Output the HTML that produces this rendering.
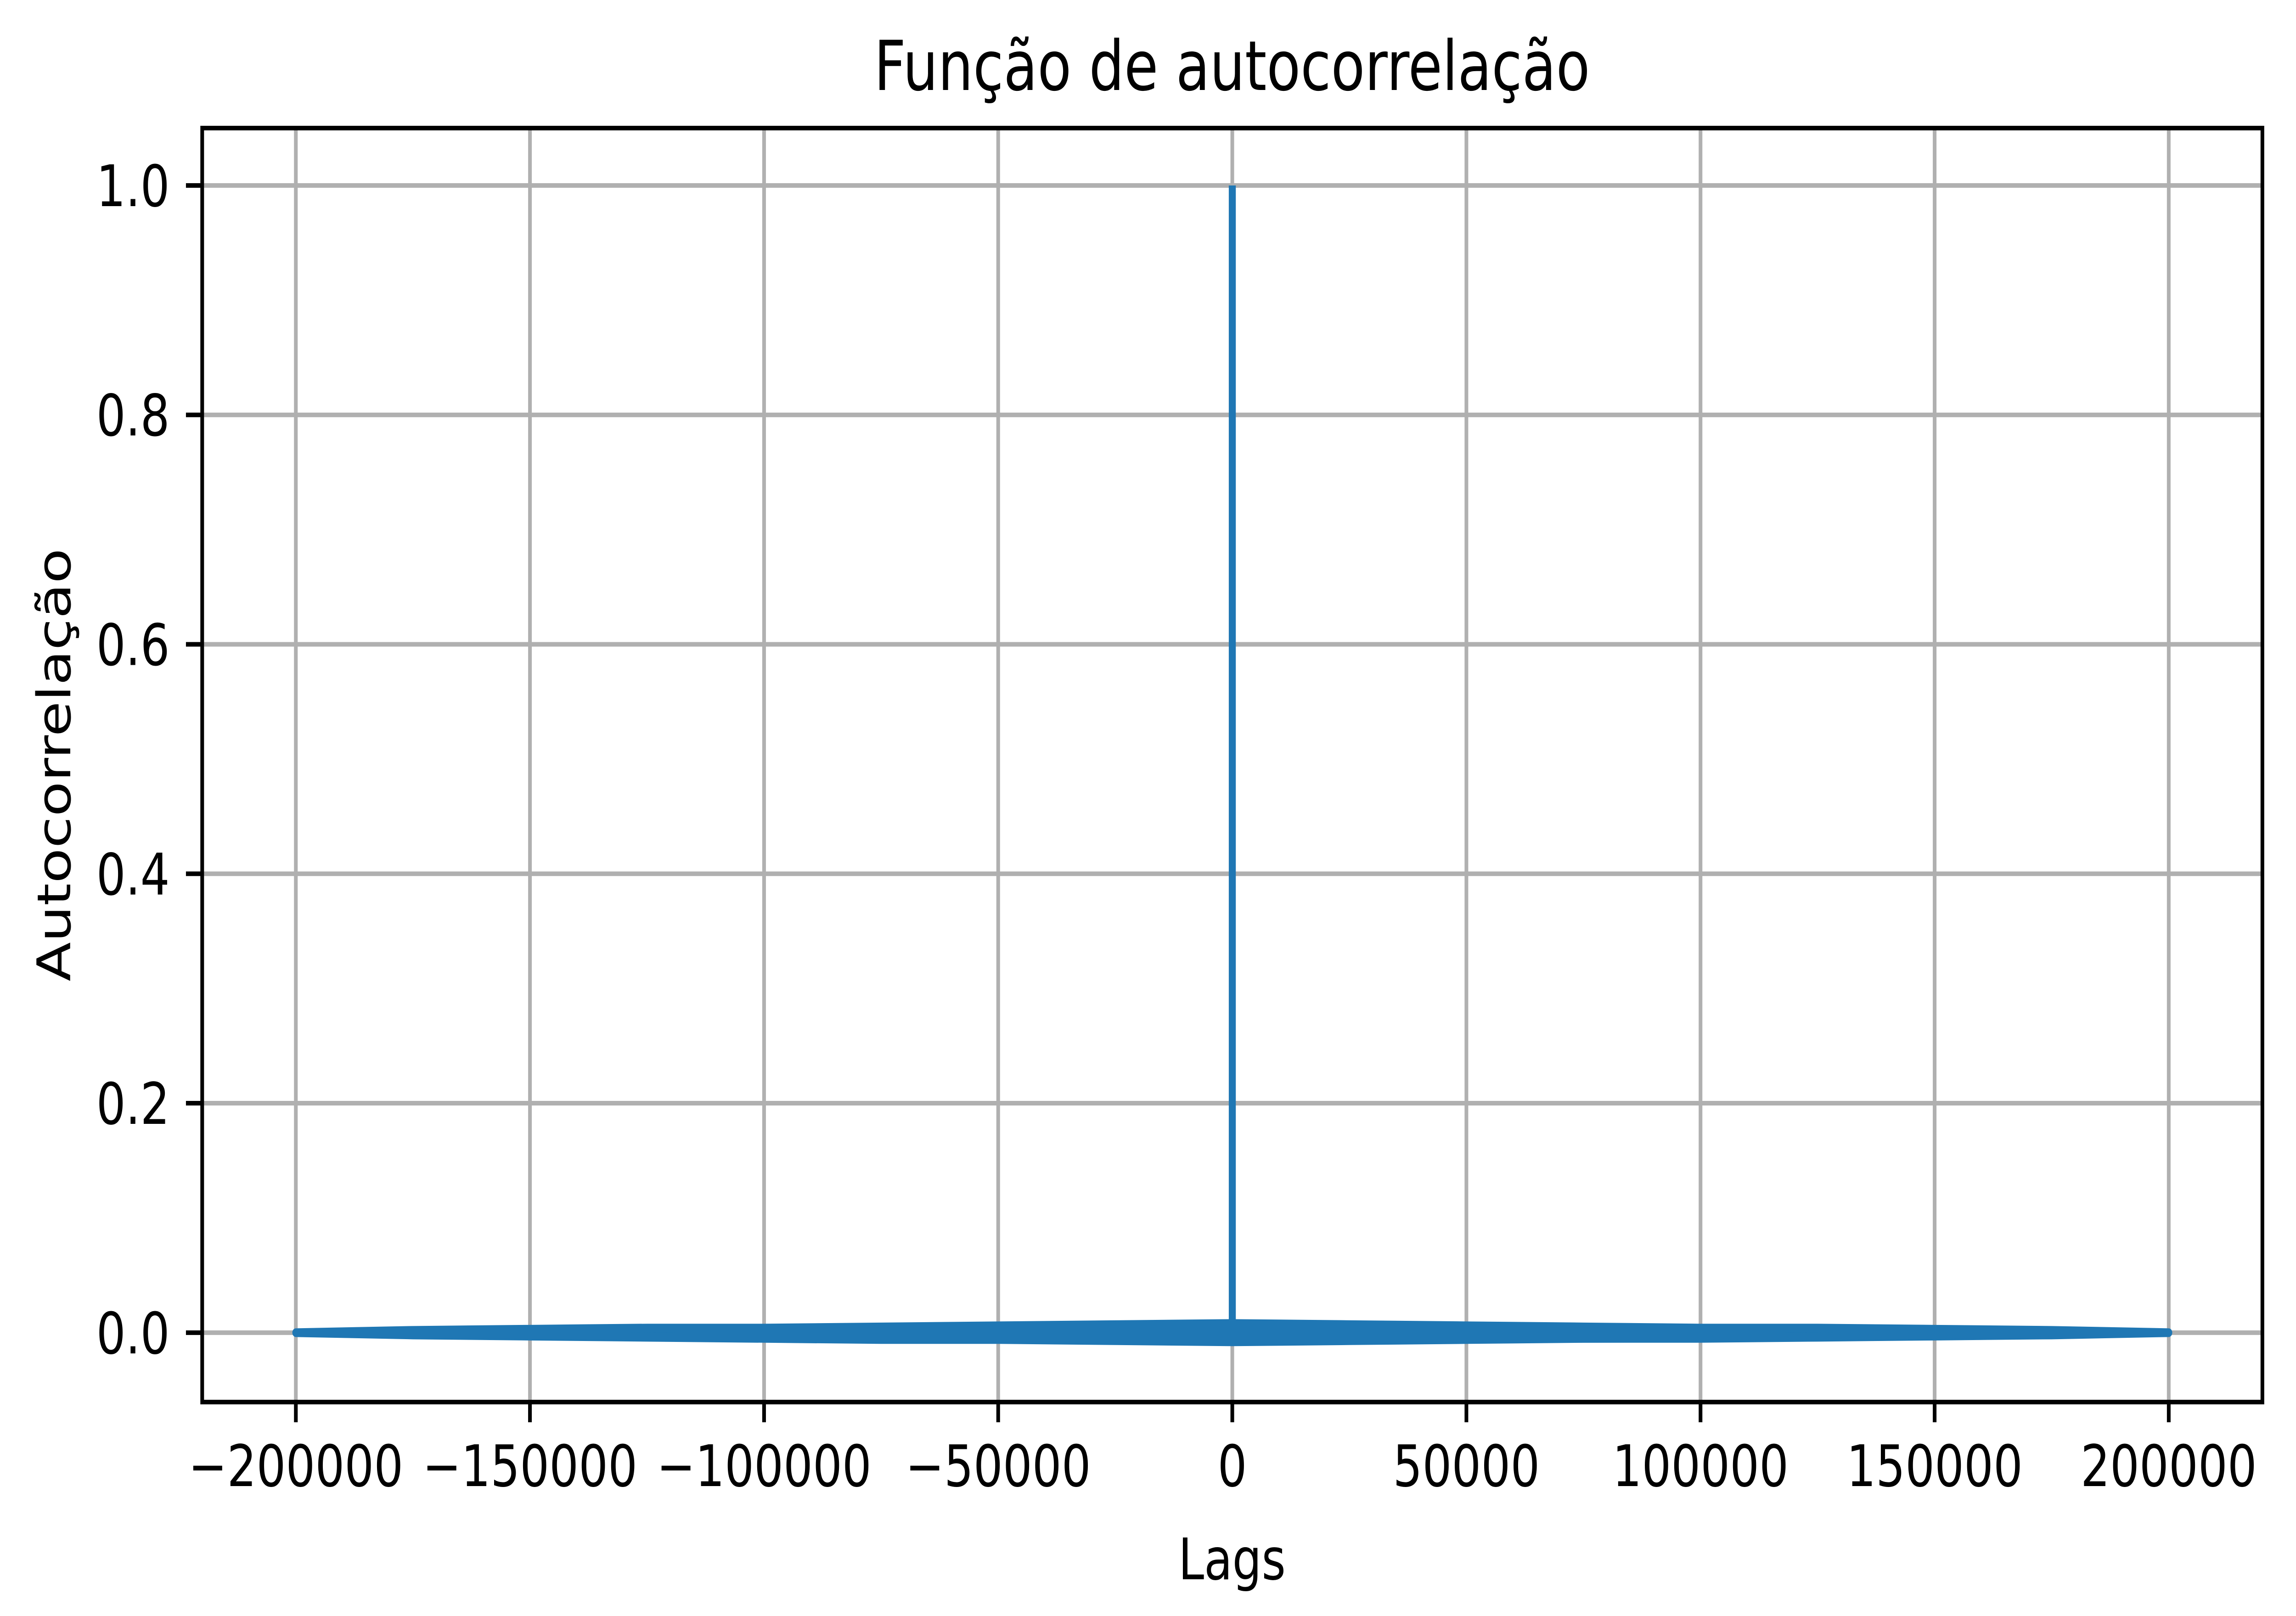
<!DOCTYPE html>
<html><head><meta charset="utf-8">
<style>
html,body{margin:0;padding:0;background:#fff;width:100%;height:100%;overflow:hidden;}
svg{display:block;position:fixed;left:0;top:0;width:100vw;height:100vh;}
text{font-family:"DejaVu Sans","Liberation Sans",sans-serif;fill:#000;}
</style></head>
<body>
<svg id="chart" viewBox="0 0 6217 3520" preserveAspectRatio="none" xmlns="http://www.w3.org/2000/svg">
<rect x="0" y="0" width="6217" height="3520" fill="#fff"/>
<g id="grid"></g>
<g id="series"></g>
<g id="axes"></g>
<text x="3336" y="196" font-size="150" text-anchor="middle">Função de autocorrelação</text>
<text x="3336" y="3440" font-size="125" text-anchor="middle">Lags</text>
<text x="0" y="0" font-size="125" text-anchor="middle" transform="translate(190,1666) rotate(-90)">Autocorrelação</text>
</svg>
<script>
const xTicks = [-200000,-150000,-100000,-50000,0,50000,100000,150000,200000];
const xTickLabels = ["\u2212200000","\u2212150000","\u2212100000","\u221250000","0","50000","100000","150000","200000"];
const yTicks = [0,0.2,0.4,0.6,0.8,1.0];
const yTickLabels = ["0.0","0.2","0.4","0.6","0.8","1.0"];
const envLags = [-200000,-175000,-150000,-125000,-100000,-75000,-50000,-25000,0,25000,50000,75000,100000,125000,150000,175000,200000];
const envUpper = [0,0.002,0.003,0.004,0.004,0.005,0.006,0.007,0.008,0.007,0.006,0.005,0.004,0.004,0.003,0.002,0];
const envLower = [0,-0.002,-0.003,-0.004,-0.005,-0.006,-0.006,-0.007,-0.008,-0.007,-0.006,-0.005,-0.005,-0.004,-0.003,-0.002,0];
const peakLag = [0];
const peakValue = [1.0];

const L=547.5, R=6126, T=279, B=3054;
const xMin=-220000, xMax=220000, yMin=-0.0605, yMax=1.05;
const sx = v => L + (v-xMin)/(xMax-xMin)*(R-L);
const sy = v => B - (v-yMin)/(yMax-yMin)*(B-T);
const NS="http://www.w3.org/2000/svg";
function mk(tag, parent){const e=document.createElementNS(NS,tag);parent.appendChild(e);return e;}

const grid=document.getElementById('grid');
xTicks.forEach(v=>{const l=mk('line',grid);


l.setAttribute('x1',sx(v));l.setAttribute('x2',sx(v));l.setAttribute('y1',T);l.setAttribute('y2',B);
l.setAttribute('stroke','#b0b0b0');l.setAttribute('stroke-width','10');});
yTicks.forEach(v=>{const l=mk('line',grid);


l.setAttribute('x1',L);l.setAttribute('x2',R);l.setAttribute('y1',sy(v));l.setAttribute('y2',sy(v));
l.setAttribute('stroke','#b0b0b0');l.setAttribute('stroke-width','10');});

const ser=document.getElementById('series');
let pts=envLags.map((x,i)=>sx(x)+','+sy(envUpper[i]));
for(let i=envLags.length-1;i>=0;i--) pts.push(sx(envLags[i])+','+sy(envLower[i]));
const band=mk('polygon',ser);


band.setAttribute('points',pts.join(' '));
band.setAttribute('fill','#1f77b4');band.setAttribute('stroke','#1f77b4');
band.setAttribute('stroke-width','19');band.setAttribute('stroke-linejoin','round');
peakLag.forEach((x,i)=>{const l=mk('line',ser);


l.setAttribute('x1',sx(x));l.setAttribute('x2',sx(x));l.setAttribute('y1',sy(0));l.setAttribute('y2',sy(peakValue[i]));
l.setAttribute('stroke','#1f77b4');l.setAttribute('stroke-width','19');});

const ax=document.getElementById('axes');
const fr=mk('rect',ax);


fr.setAttribute('x',L);fr.setAttribute('y',T);fr.setAttribute('width',R-L);fr.setAttribute('height',B-T);
fr.setAttribute('fill','none');fr.setAttribute('stroke','#000');fr.setAttribute('stroke-width','10');
xTicks.forEach((v,i)=>{const t=mk('line',ax);


t.setAttribute('x1',sx(v));t.setAttribute('x2',sx(v));t.setAttribute('y1',B);t.setAttribute('y2',B+44);
t.setAttribute('stroke','#000');t.setAttribute('stroke-width','10');
const tx=mk('text',ax);


tx.setAttribute('x',sx(v));tx.setAttribute('y',B+88+95);tx.setAttribute('font-size','125');tx.setAttribute('text-anchor','middle');
tx.textContent=xTickLabels[i];});
yTicks.forEach((v,i)=>{const t=mk('line',ax);


t.setAttribute('x1',L-44);t.setAttribute('x2',L);t.setAttribute('y1',sy(v));t.setAttribute('y2',sy(v));
t.setAttribute('stroke','#000');t.setAttribute('stroke-width','10');
const tx=mk('text',ax);


tx.setAttribute('x',L-88);tx.setAttribute('y',sy(v)+45);tx.setAttribute('font-size','125');tx.setAttribute('text-anchor','end');
tx.textContent=yTickLabels[i];});
</script>
</body></html>
